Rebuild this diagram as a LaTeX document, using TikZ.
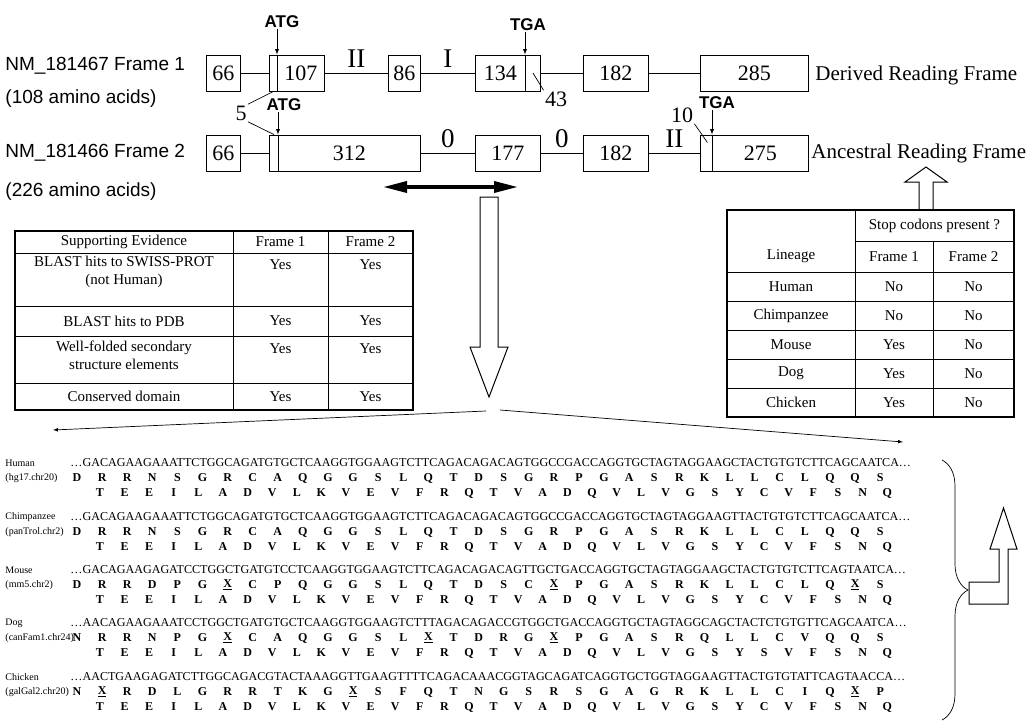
\documentclass[tikz,border=0pt]{standalone}
\usepackage{fontspec}
\setmainfont{Liberation Serif}
\setsansfont{Liberation Sans}
\usetikzlibrary{arrows.meta, decorations.pathreplacing, positioning, calc}

\newcommand{\fs}[1]{\fontsize{#1pt}{\dimexpr #1pt*6/5\relax}\selectfont}
\newcommand{\ux}{\underline{X}}
% one row of translated residues: name prefix, first x, step, y, letters
\newcommand{\aarow}[5]{%
  \foreach \res [count=\i from 0] in {#5}
    \node[aa] (#1\i) at ({#2+#3*\i},#4) {\res};}

\begin{document}
\begin{tikzpicture}[x=1pt, y=-1pt, >=latex, line width=0.9pt,
    exon/.style={draw, anchor=west, minimum height=36pt, inner sep=0pt, font=\fs{22}},
    slim/.style={draw, anchor=west, minimum height=36pt, inner sep=0pt},
    codon/.style={font=\sffamily\bfseries\fs{17}, inner sep=1pt},
    frm/.style={font=\sffamily\fs{19}, anchor=west, inner sep=0pt},
    rf/.style={font=\fs{21}, anchor=west, inner sep=0pt},
    ph/.style={font=\fs{27}, above, inner sep=5pt},
    nt/.style={font=\fs{22}, inner sep=1pt},
    cell/.style={font=\fs{15}, align=center, inner sep=0pt},
    sp/.style={font=\fs{10}, anchor=west, inner sep=0pt},
    dna/.style={font=\fs{12.1}, anchor=west, inner sep=0pt},
    aa/.style={font=\bfseries\fs{12}, inner sep=0pt},
    hollow/.style={draw, line width=1pt, fill=white},
    thin/.style={line width=0.7pt}]
    \useasboundingbox (0,0) rectangle (1034,723);

    % gene models
    \node[frm] (f1name) at (5,66) {NM\_181467 Frame 1};
    \node[frm] (f1len) at (5,99) {(108 amino acids)};
    \node[frm] (f2name) at (5,153) {NM\_181466 Frame 2};
    \node[frm] (f2len) at (5,192) {(226 amino acids)};

    \node[exon, minimum width=34pt] (a66) at (206,73) {66};
    \node[slim, minimum width=8pt] (a5) at (269,73) {};
    \node[exon, minimum width=47pt] (a107) at (277,73) {107};
    \node[exon, minimum width=32pt] (a86) at (388,73) {86};
    \node[exon, minimum width=50pt] (a134) at (475,73) {134};
    \node[slim, minimum width=15pt] (a43) at (525,73) {};
    \node[exon, minimum width=65pt] (a182) at (583,73) {182};
    \node[exon, minimum width=108pt] (a285) at (700,73) {285};
    \node[rf] (der) at (815,75) {Derived Reading Frame};

    \node[exon, minimum width=34pt] (b66) at (206,153) {66};
    \node[slim, minimum width=9pt] (b5) at (269,153) {};
    \node[exon, minimum width=142pt] (b312) at (278,153) {312};
    \node[exon, minimum width=65pt] (b177) at (475,153) {177};
    \node[exon, minimum width=65pt] (b182) at (583,153) {182};
    \node[slim, minimum width=12pt] (b10) at (700,153) {};
    \node[exon, minimum width=96pt] (b275) at (712,153) {275};
    \node[rf] (anc) at (811,153) {Ancestral Reading Frame};

    \draw (a66) -- (a5);
    \draw (a107) -- node[ph] (ph1) {II} (a86);
    \draw (a86) -- node[ph] (ph2) {I} (a134);
    \draw (a43) -- (a182);
    \draw (a182) -- (a285);
    \draw (b66) -- (b5);
    \draw (b312) -- node[ph] (ph3) {0} (b177);
    \draw (b177) -- node[ph] (ph4) {0} (b182);
    \draw (b182) -- node[ph] (ph5) {II} (b10);

    % start and stop codons
    \node[codon] (atg1) at (282,22) {ATG};
    \draw[->] (atg1.south -| a107.north west) -- (a107.north west);
    \node[codon] (tga1) at (528,25) {TGA};
    \draw[->] (tga1.south -| a43.north west) -- (a43.north west);
    \node[codon] (atg2) at (284,105) {ATG};
    \draw[->] (atg2.south -| b312.north west) -- (b312.north west);
    \node[codon] (tga2) at (717,103) {TGA};
    \draw[->] (tga2.south -| b275.north west) -- (b275.north west);

    \node[nt] (l5) at (241,113) {5};
    \draw[thin] (l5.north east) -- (a5.south);
    \draw[thin] (l5.south east) -- (b5.north);
    \node[nt] (l43) at (556,99) {43};
    \draw[thin] (a43.center) -- (l43.north west);
    \node[nt] (l10) at (682,115) {10};
    \draw[thin] (l10.south east) -- ($(b10.north)+(1,8)$);

    \coordinate (spanL) at (383,187);
    \coordinate (spanR) at (518,187);
    \draw[line width=3.5pt, {Triangle[length=24pt,width=11pt]}-{Triangle[length=24pt,width=11pt]}] (spanL) -- (spanR);

    \draw[hollow] (480,197) -- (498,197) -- (498,347) -- (508,347) -- (489,397) -- (470,347) -- (480,347) -- cycle;
    \coordinate (forkL) at (486,411);
    \coordinate (forkR) at (500,410);
    \coordinate (seqL) at (53,430);
    \coordinate (seqR) at (903,442);
    \draw[thin, ->] (forkL) -- (seqL);
    \draw[thin, ->] (forkR) -- (seqR);

    % evidence table
    \draw[thin] (15,253) -- (413,253) (15,306) -- (413,306) (15,336) -- (413,336)
        (15,383) -- (413,383) (233,231) -- (233,410) (328,231) -- (328,410);
    \draw[line width=1.8pt] (15,231) rectangle (413,410);
    \node[cell] (ev0) at (124,242) {Supporting Evidence};
    \node[cell] (ev0a) at (280.5,242) {Frame 1};
    \node[cell] (ev0b) at (370.5,242) {Frame 2};
    \node[cell, anchor=north] (ev1) at (124,256) {BLAST hits to SWISS-PROT\\(not Human)};
    \node[cell] (ev1a) at (280.5,265) {Yes};
    \node[cell] (ev1b) at (370.5,265) {Yes};
    \node[cell] (ev2) at (124,321) {BLAST hits to PDB};
    \node[cell] (ev2a) at (280.5,321) {Yes};
    \node[cell] (ev2b) at (370.5,321) {Yes};
    \node[cell, anchor=north] (ev3) at (124,340) {Well-folded secondary\\structure elements};
    \node[cell] (ev3a) at (280.5,349) {Yes};
    \node[cell] (ev3b) at (370.5,349) {Yes};
    \node[cell] (ev4) at (124,396.5) {Conserved domain};
    \node[cell] (ev4a) at (280.5,396.5) {Yes};
    \node[cell] (ev4b) at (370.5,396.5) {Yes};

    % stop codon table
    \draw[hollow] (919,210) -- (919,182) -- (905,182) -- (926,167) -- (947,182) -- (933,182) -- (933,210) -- cycle;
    \draw[thin] (855,241) -- (1014,241) (727,272) -- (1014,272) (727,301) -- (1014,301)
        (727,330) -- (1014,330) (727,359) -- (1014,359) (727,388) -- (1014,388)
        (855,210) -- (855,417) (933,241) -- (933,417);
    \draw[line width=1.8pt] (727,210) rectangle (1014,417);
    \node[cell] (st0) at (791,256) {Lineage};
    \node[cell] (st0a) at (934.5,226) {Stop codons present ?};
    \node[cell] (st0b) at (894,257) {Frame 1};
    \node[cell] (st0c) at (973.5,257) {Frame 2};
    \node[cell] (st1) at (791,286.5) {Human};
    \node[cell] (st1a) at (894,286.5) {No};
    \node[cell] (st1b) at (973.5,286.5) {No};
    \node[cell] (st2) at (791,315.5) {Chimpanzee};
    \node[cell] (st2a) at (894,315.5) {No};
    \node[cell] (st2b) at (973.5,315.5) {No};
    \node[cell] (st3) at (791,344.5) {Mouse};
    \node[cell] (st3a) at (894,344.5) {Yes};
    \node[cell] (st3b) at (973.5,344.5) {No};
    \node[cell] (st4) at (791,373.5) {Dog};
    \node[cell] (st4a) at (894,373.5) {Yes};
    \node[cell] (st4b) at (973.5,373.5) {No};
    \node[cell] (st5) at (791,402.5) {Chicken};
    \node[cell] (st5a) at (894,402.5) {Yes};
    \node[cell] (st5b) at (973.5,402.5) {No};

    % alignment
    \node[sp] (hu) at (5,463) {Human};
    \node[sp] (hub) at (5,478) {(hg17.chr20)};
    \node[dna] (hus) at (70,463) {\ldots GACAGAAGAAATTCTGGCAGATGTGCTCAAGGTGGAAGTCTTCAGACAGACAGTGGCCGACCAGGTGCTAGTAGGAAGCTACTGTGTCTTCAGCAATCA\ldots};
    \aarow{huA}{77}{25.1}{478}{D,R,R,N,S,G,R,C,A,Q,G,G,S,L,Q,T,D,S,G,R,P,G,A,S,R,K,L,L,C,L,Q,Q,S}
    \aarow{huB}{100}{24.6}{493}{T,E,E,I,L,A,D,V,L,K,V,E,V,F,R,Q,T,V,A,D,Q,V,L,V,G,S,Y,C,V,F,S,N,Q}

    \node[sp] (ch) at (5,517) {Chimpanzee};
    \node[sp] (chb) at (5,532) {(panTrol.chr2)};
    \node[dna] (chs) at (70,517) {\ldots GACAGAAGAAATTCTGGCAGATGTGCTCAAGGTGGAAGTCTTCAGACAGACAGTGGCCGACCAGGTGCTAGTAGGAAGTTACTGTGTCTTCAGCAATCA\ldots};
    \aarow{chA}{77}{25.1}{532}{D,R,R,N,S,G,R,C,A,Q,G,G,S,L,Q,T,D,S,G,R,P,G,A,S,R,K,L,L,C,L,Q,Q,S}
    \aarow{chB}{100}{24.6}{547}{T,E,E,I,L,A,D,V,L,K,V,E,V,F,R,Q,T,V,A,D,Q,V,L,V,G,S,Y,C,V,F,S,N,Q}

    \node[sp] (mo) at (5,570) {Mouse};
    \node[sp] (mob) at (5,585) {(mm5.chr2)};
    \node[dna] (mos) at (70,570) {\ldots GACAGAAGAGATCCTGGCTGATGTCCTCAAGGTGGAAGTCTTCAGACAGACAGTTGCTGACCAGGTGCTAGTAGGAAGCTACTGTGTCTTCAGTAATCA\ldots};
    \aarow{moA}{77}{25.1}{585}{D,R,R,D,P,G,\ux,C,P,Q,G,G,S,L,Q,T,D,S,C,\ux,P,G,A,S,R,K,L,L,C,L,Q,\ux,S}
    \aarow{moB}{100}{24.6}{600}{T,E,E,I,L,A,D,V,L,K,V,E,V,F,R,Q,T,V,A,D,Q,V,L,V,G,S,Y,C,V,F,S,N,Q}

    \node[sp] (dg) at (5,623) {Dog};
    \node[sp] (dgb) at (5,638) {(canFam1.chr24)};
    \node[dna] (dgs) at (70,623) {\ldots AACAGAAGAAATCCTGGCTGATGTGCTCAAGGTGGAAGTCTTTAGACAGACCGTGGCTGACCAGGTGCTAGTAGGCAGCTACTCTGTGTTCAGCAATCA\ldots};
    \aarow{dgA}{77}{25.1}{638}{N,R,R,N,P,G,\ux,C,A,Q,G,G,S,L,\ux,T,D,R,G,\ux,P,G,A,S,R,Q,L,L,C,V,Q,Q,S}
    \aarow{dgB}{100}{24.6}{653}{T,E,E,I,L,A,D,V,L,K,V,E,V,F,R,Q,T,V,A,D,Q,V,L,V,G,S,Y,S,V,F,S,N,Q}

    \node[sp] (ck) at (5,677) {Chicken};
    \node[sp] (ckb) at (5,692) {(galGal2.chr20)};
    \node[dna] (cks) at (70,677) {\ldots AACTGAAGAGATCTTGGCAGACGTACTAAAGGTTGAAGTTTTCAGACAAACGGTAGCAGATCAGGTGCTGGTAGGAAGTTACTGTGTATTCAGTAACCA\ldots};
    \aarow{ckA}{77}{25.1}{692}{N,\ux,R,D,L,G,R,R,T,K,G,\ux,S,F,Q,T,N,G,S,R,S,G,A,G,R,K,L,L,C,I,Q,\ux,P}
    \aarow{ckB}{100}{24.6}{707}{T,E,E,I,L,A,D,V,L,K,V,E,V,F,R,Q,T,V,A,D,Q,V,L,V,G,S,Y,C,V,F,S,N,Q}

    % brace and return arrow
    \draw[thin, decorate, decoration={brace, amplitude=26pt}] (942,460) -- (942,720);
    \draw[hollow] (969,582) -- (999,582) -- (999,549) -- (990,549) -- (1003.5,508) -- (1017,549)
        -- (1008,549) -- (1008,604) -- (969,604) -- cycle;
\end{tikzpicture}
\end{document}
